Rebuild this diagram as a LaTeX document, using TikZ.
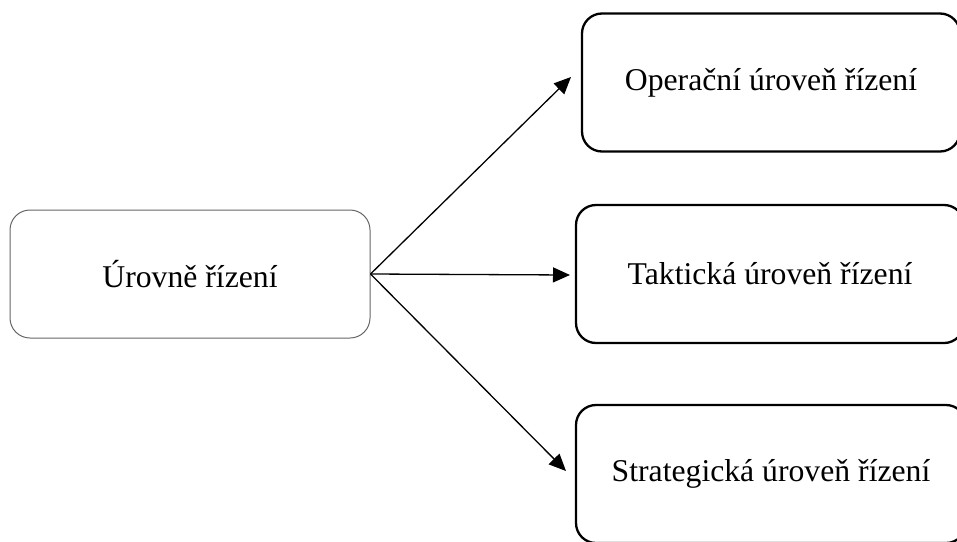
\documentclass[tikz,border=0pt]{standalone}
\usepackage{fontspec}
\setmainfont{Liberation Serif}
\usetikzlibrary{arrows.meta}
\begin{document}
\begin{tikzpicture}[x=1pt,y=-1pt,
  srcbox/.style={draw=black!60,line width=1pt,rounded corners=20pt,minimum width=360pt,minimum height=128pt,inner sep=0pt,font=\fontsize{31.7}{36}\selectfont},
  levelbox/.style={draw=black,line width=2.3pt,rounded corners=20pt,minimum width=384pt,minimum height=138pt,inner sep=0pt,font=\fontsize{31.7}{36}\selectfont},
  conn/.style={line width=1.3pt,-{Triangle[length=17pt,width=15pt]}}]
\useasboundingbox (0,0) rectangle (957,541);
\clip (0,0) rectangle (957,541);
\node[srcbox] (L) at (190,274) {Úrovně řízení};
\node[levelbox,minimum width=378pt] (O) at (771,82.5) {Operační úroveň řízení};
\node[levelbox,minimum width=388pt] (T) at (770,274) {Taktická úroveň řízení};
\node[levelbox,minimum width=390pt] (S) at (771,474) {Strategická úroveň řízení};
\coordinate (tO) at (571,77);
\coordinate (tT) at (570,275);
\coordinate (tS) at (566,471);
\draw[conn] (L.east) -- (tO);
\draw[conn] (L.east) -- (tT);
\draw[conn] (L.east) -- (tS);
\end{tikzpicture}
\end{document}
